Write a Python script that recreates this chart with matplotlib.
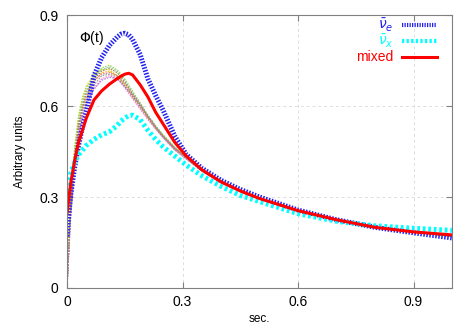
import numpy as np
import matplotlib
matplotlib.use("Agg")
import matplotlib.pyplot as plt

plt.rcParams['font.family'] = ['Liberation Sans', 'DejaVu Sans']

# time grid (sec.)
t = [0, 0.005, 0.01, 0.02, 0.03, 0.04, 0.05, 0.07, 0.09, 0.11, 0.13, 0.14, 0.15, 0.16, 0.17, 0.19,
     0.21, 0.23, 0.25, 0.28, 0.31, 0.35, 0.4, 0.45, 0.5, 0.6, 0.7, 0.8, 0.9, 1.0]

nue_bar = [0.17, 0.25, 0.31, 0.40, 0.47, 0.53, 0.58, 0.70, 0.76, 0.80, 0.827, 0.837, 0.84, 0.835, 0.82, 0.77,
           0.69, 0.635, 0.585, 0.50, 0.44, 0.395, 0.355, 0.325, 0.30, 0.257, 0.225, 0.20, 0.182, 0.165]

nux_bar = [0.32, 0.35, 0.38, 0.415, 0.44, 0.455, 0.47, 0.49, 0.505, 0.515, 0.535, 0.55, 0.56, 0.568, 0.57, 0.555,
           0.52, 0.49, 0.465, 0.435, 0.405, 0.37, 0.335, 0.305, 0.285, 0.245, 0.22, 0.205, 0.197, 0.19]

mixed = [0.245, 0.30, 0.35, 0.42, 0.48, 0.52, 0.56, 0.62, 0.65, 0.672, 0.69, 0.698, 0.705, 0.708, 0.703, 0.67,
         0.63, 0.58, 0.54, 0.48, 0.435, 0.39, 0.35, 0.32, 0.295, 0.255, 0.225, 0.20, 0.185, 0.175]

# individual realisations (thin lines)
thin_curves = [
    [0.0, 0.15, 0.27, 0.43, 0.53, 0.59, 0.63, 0.68, 0.71, 0.715, 0.70, 0.686, 0.67, 0.65, 0.63, 0.60,
     0.56, 0.53, 0.50, 0.46, 0.43, 0.39, 0.35, 0.32, 0.295, 0.255, 0.225, 0.20, 0.185, 0.17],
    [0.0, 0.17, 0.30, 0.46, 0.56, 0.62, 0.66, 0.70, 0.725, 0.735, 0.72, 0.706, 0.69, 0.67, 0.65, 0.61,
     0.57, 0.535, 0.505, 0.465, 0.43, 0.39, 0.35, 0.32, 0.295, 0.255, 0.225, 0.20, 0.185, 0.17],
    [0.0, 0.13, 0.25, 0.41, 0.51, 0.57, 0.61, 0.66, 0.69, 0.70, 0.69, 0.676, 0.66, 0.642, 0.625, 0.59,
     0.555, 0.525, 0.495, 0.455, 0.425, 0.385, 0.345, 0.318, 0.293, 0.254, 0.224, 0.20, 0.185, 0.17],
    [0.0, 0.16, 0.28, 0.44, 0.54, 0.60, 0.645, 0.69, 0.715, 0.725, 0.71, 0.696, 0.68, 0.66, 0.64, 0.605,
     0.565, 0.53, 0.50, 0.46, 0.43, 0.39, 0.352, 0.322, 0.297, 0.256, 0.226, 0.201, 0.186, 0.171],
    [0.0, 0.14, 0.26, 0.42, 0.52, 0.58, 0.62, 0.67, 0.70, 0.705, 0.695, 0.681, 0.665, 0.648, 0.63, 0.595,
     0.56, 0.525, 0.495, 0.455, 0.425, 0.385, 0.348, 0.318, 0.294, 0.254, 0.224, 0.20, 0.184, 0.17],
    [0.0, 0.18, 0.31, 0.47, 0.57, 0.63, 0.665, 0.705, 0.72, 0.72, 0.70, 0.686, 0.67, 0.652, 0.635, 0.60,
     0.565, 0.53, 0.50, 0.462, 0.432, 0.392, 0.352, 0.322, 0.296, 0.256, 0.225, 0.201, 0.185, 0.171],
    [0.0, 0.12, 0.24, 0.40, 0.50, 0.565, 0.605, 0.655, 0.685, 0.695, 0.69, 0.678, 0.665, 0.65, 0.635, 0.60,
     0.565, 0.53, 0.50, 0.46, 0.43, 0.39, 0.35, 0.32, 0.295, 0.255, 0.225, 0.20, 0.185, 0.17],
    [0.0, 0.16, 0.29, 0.45, 0.55, 0.61, 0.65, 0.695, 0.72, 0.73, 0.715, 0.70, 0.685, 0.665, 0.645, 0.61,
     0.57, 0.535, 0.503, 0.463, 0.432, 0.392, 0.352, 0.322, 0.296, 0.256, 0.225, 0.201, 0.185, 0.171],
    [0.0, 0.15, 0.27, 0.43, 0.53, 0.59, 0.635, 0.685, 0.705, 0.71, 0.70, 0.688, 0.675, 0.658, 0.64, 0.605,
     0.567, 0.532, 0.50, 0.46, 0.43, 0.39, 0.35, 0.32, 0.295, 0.255, 0.225, 0.20, 0.185, 0.17],
]
thin_colors = ['#ff9900', '#99cc33', '#ff66cc', '#996633', '#888888', '#cccc00',
               '#9966cc', '#66cc99', '#cc6666']

NUE_LS = (0, (0.3, 0.3))
NUX_LS = (0, (0.55, 0.55))

fig = plt.figure(figsize=(4.74, 3.27), dpi=100)
ax = fig.add_axes([0.1414, 0.1193, 0.8122, 0.8347])

for i, y in enumerate(thin_curves):
    ax.plot(t, y, color=thin_colors[i % len(thin_colors)], lw=0.8,
            ls=(0, (1.5, 1)), alpha=0.85)

ax.plot(t, nue_bar, color='#2222ee', lw=3.6, ls=NUE_LS)
ax.plot(t, nux_bar, color='#00ffff', lw=3.6, ls=NUX_LS)
ax.plot(t, mixed, color='#ff0000', lw=2.2)

ax.set_xlim(0, 1.0)
ax.set_ylim(0, 0.9)
ticks = [0, 0.3, 0.6, 0.9]
ax.set_xticks(ticks)
ax.set_xticklabels(['0', '0.3', '0.6', '0.9'])
ax.set_yticks(ticks)
ax.set_yticklabels(['0', '0.3', '0.6', '0.9'])
ax.tick_params(direction='in', top=True, right=True, length=4, color='#808080',
               labelsize=10)
ax.tick_params(axis='x', pad=5)
ax.tick_params(axis='y', pad=6)
for s in ax.spines.values():
    s.set_color('#808080')
ax.grid(True, ls=(0, (3, 3)), color='#dddddd', lw=0.7)
ax.set_axisbelow(True)

ax.set_xlabel('sec.', fontsize=8.5, labelpad=3)
ax.set_ylabel('Arbitrary units', fontsize=8.5, labelpad=10)
ax.text(0.03, 0.95, r'$\Phi$(t)', transform=ax.transAxes, fontsize=10,
        va='top', ha='left')

# gnuplot-like key: text right-aligned, sample on the right
key = [(r'$\bar{\nu}_e$', '#2222ee', NUE_LS),
       (r'$\bar{\nu}_x$', '#00ffff', NUX_LS),
       ('mixed', '#ff0000', '-')]
for k, (lab, col, ls) in enumerate(key):
    yk = 0.963 - k * 0.059
    ax.text(0.848, yk, lab, color=col, transform=ax.transAxes, ha='right',
            va='center', fontsize=10)
    ax.plot([0.869, 0.96], [yk, yk], color=col, ls=ls,
            lw=2.2 if k == 2 else 3.0, transform=ax.transAxes)

fig.savefig('out.png', dpi=100)
